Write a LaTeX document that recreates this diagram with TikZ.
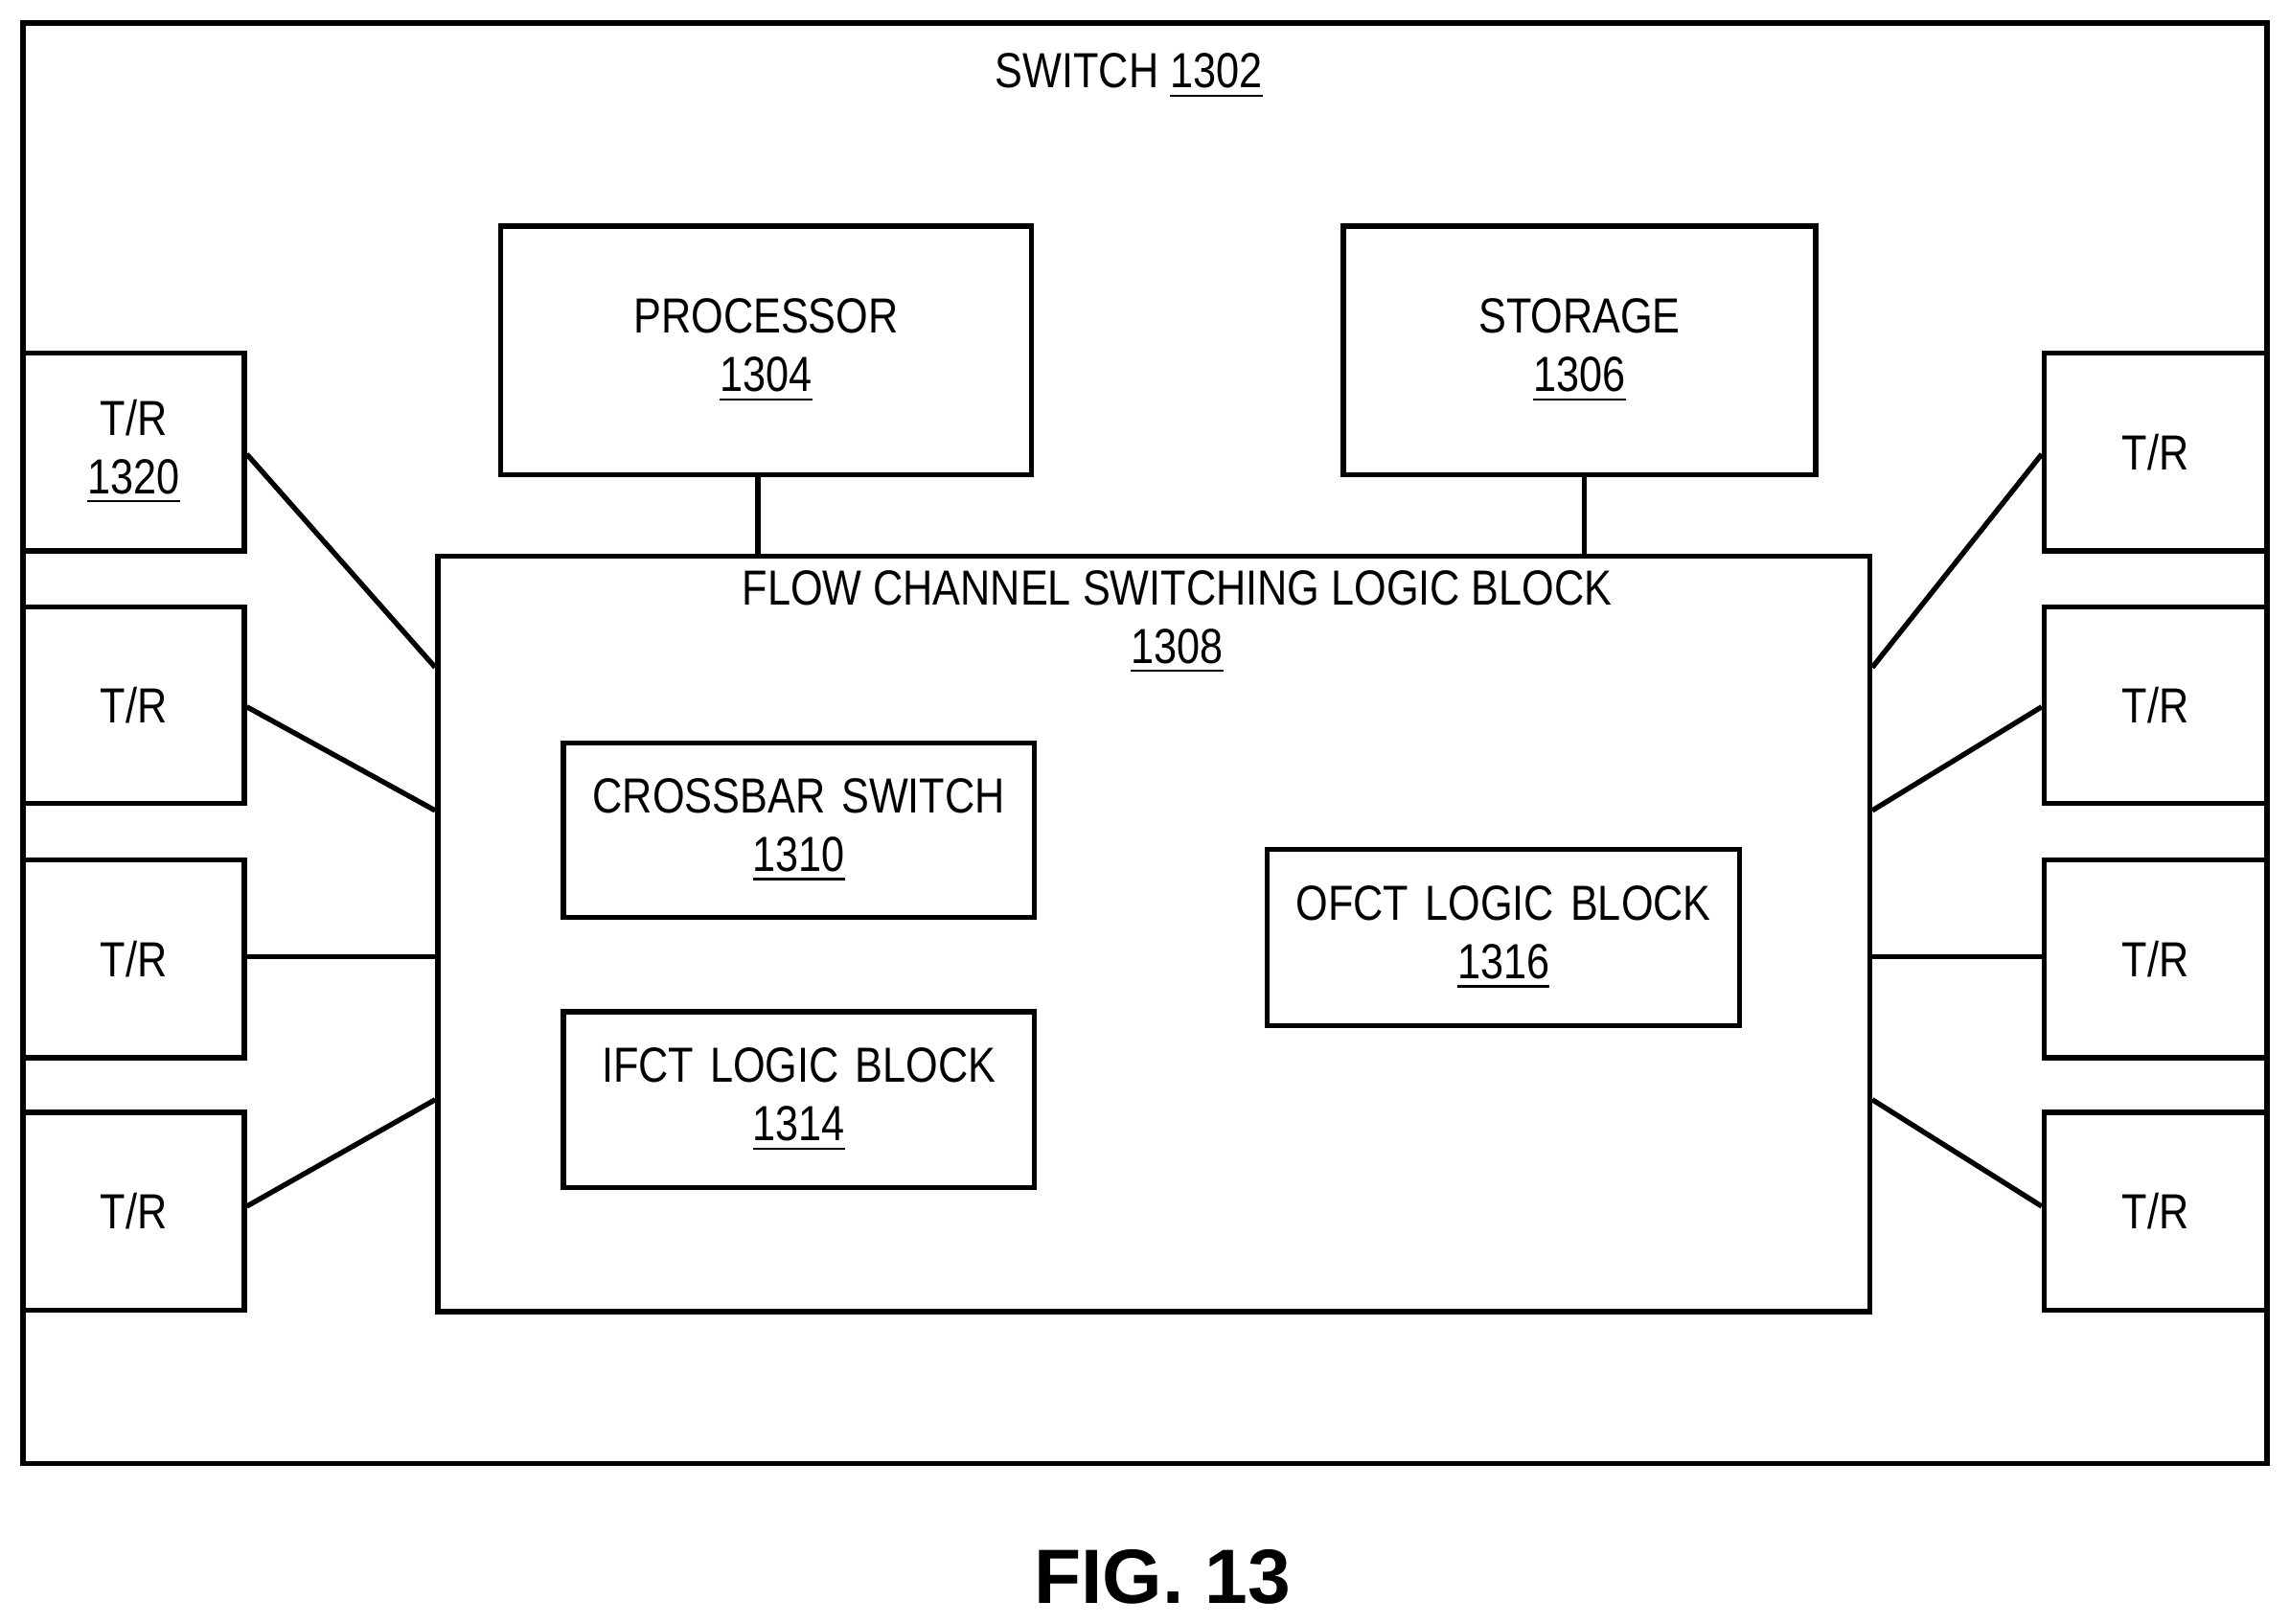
\documentclass[tikz,border=0pt]{standalone}
\usepackage{fontspec}
\setmainfont{Liberation Sans}[FakeStretch=0.84]
\newfontfamily\figfont{Liberation Sans}
\begin{document}
\begin{tikzpicture}[x=0.01cm,y=-0.01cm,line width=1pt,
  box/.style={draw,line width=1pt,inner sep=0pt,align=center,font=\fontsize{9.6}{11.4}\selectfont},
  lbl/.style={align=center,font=\fontsize{9.6}{11.4}\selectfont}]
\useasboundingbox (0,0) rectangle (1568,1112);
\newcommand{\bx}[6]{\node[box,minimum width=#4*0.01cm-1pt,minimum height=#5*0.01cm-1pt,text width=#4*0.01cm-4pt] (#1) at (#2,#3) {#6};}
\bx{sw}{784}{509}{1540}{990}{}
\node[lbl] (swl) at (773,52) {SWITCH \underline{1302}};
\bx{proc}{524.5}{240}{367}{174}{PROCESSOR\\\underline{1304}}
\bx{stor}{1081.5}{240}{327}{174}{STORAGE\\\underline{1306}}
\bx{flow}{790}{639.5}{984}{521}{}
\node[lbl] (flowl) at (806,426) {FLOW CHANNEL SWITCHING LOGIC BLOCK\\\underline{1308}};
\bx{cross}{547}{568.5}{326}{123}{CROSSBAR SWITCH\\\underline{1310}}
\bx{ifct}{547}{753}{326}{124}{IFCT LOGIC BLOCK\\\underline{1314}}
\bx{ofct}{1029.5}{642}{327}{124}{OFCT LOGIC BLOCK\\\underline{1316}}
\bx{l1}{91.5}{309.5}{155}{139}{T/R\\\underline{1320}}
\bx{l2}{91.5}{483}{155}{138}{T/R}
\bx{l3}{91.5}{656.5}{155}{139}{T/R}
\bx{l4}{91.5}{829.5}{155}{139}{T/R}
\bx{r1}{1476}{309.5}{156}{139}{T/R}
\bx{r2}{1476}{483}{156}{138}{T/R}
\bx{r3}{1476}{656.5}{156}{139}{T/R}
\bx{r4}{1476}{829.5}{156}{139}{T/R}
\coordinate (fl1) at (298,457); \coordinate (fl2) at (298,555);
\coordinate (fl3) at (298,655); \coordinate (fl4) at (298,753);
\coordinate (fr1) at (1282,457); \coordinate (fr2) at (1282,555);
\coordinate (fr3) at (1282,655); \coordinate (fr4) at (1282,753);
\draw (l1.east|-0,311) -- (fl1);
\draw (l2.east|-0,484) -- (fl2);
\draw (l3.east|-0,655) -- (fl3);
\draw (l4.east|-0,826) -- (fl4);
\draw (r1.west|-0,311) -- (fr1);
\draw (r2.west|-0,484) -- (fr2);
\draw (r3.west|-0,655) -- (fr3);
\draw (r4.west|-0,826) -- (fr4);
\draw (proc.south-|519,0) -- (flow.north-|519,0);
\draw (stor.south-|1085,0) -- (flow.north-|1085,0);
\node[font=\figfont\fontsize{15}{18}\selectfont\bfseries] (fig) at (796,1080) {FIG. 13};
\end{tikzpicture}
\end{document}
